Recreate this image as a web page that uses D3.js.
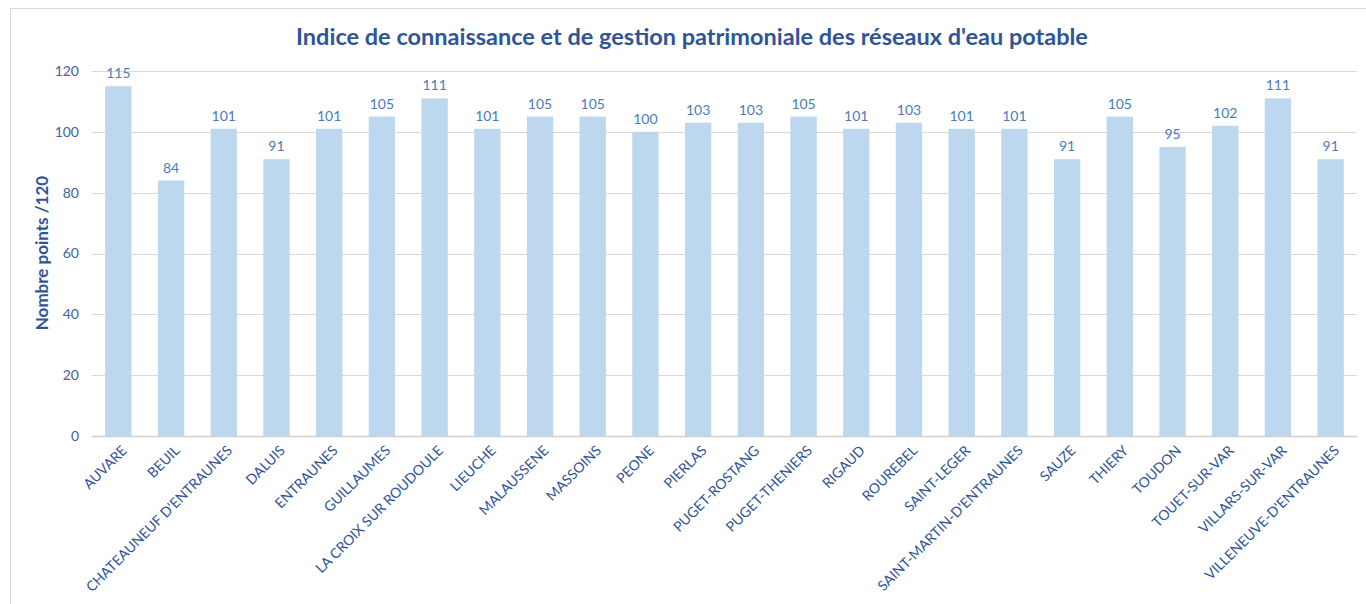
<!DOCTYPE html>
<html><head><meta charset="utf-8">
<script src="https://cdn.jsdelivr.net/npm/d3@7"></script>
<style>body{margin:0;background:#fff;}svg{display:block;font-family:Lato,"Open Sans",sans-serif;}</style>
</head><body>
<svg id="c" width="1366" height="604"></svg>
<script>
const categories = ["AUVARE","BEUIL","CHATEAUNEUF D'ENTRAUNES","DALUIS","ENTRAUNES","GUILLAUMES","LA CROIX SUR ROUDOULE","LIEUCHE","MALAUSSENE","MASSOINS","PEONE","PIERLAS","PUGET-ROSTANG","PUGET-THENIERS","RIGAUD","ROUREBEL","SAINT-LEGER","SAINT-MARTIN-D'ENTRAUNES","SAUZE","THIERY","TOUDON","TOUET-SUR-VAR","VILLARS-SUR-VAR","VILLENEUVE-D'ENTRAUNES"];
const values = [115,84,101,91,101,105,111,101,105,105,100,103,103,105,101,103,101,101,91,105,95,102,111,91];
const yTicks = [0,20,40,60,80,100,120];
const title = "Indice de connaissance et de gestion patrimoniale des réseaux d'eau potable";
const yTitle = "Nombre points /120";

(function(){
const svg = d3.select("#c");
svg.append("rect").attr("x",10.5).attr("y",8.5).attr("width",1366).attr("height",620)
  .attr("fill","none").attr("stroke","#D9D9D9").attr("stroke-width",1);

const pL=92, pR=1357, pT=71, pB=436;
const x = d3.scaleBand().domain(categories).range([pL,pR]).paddingInner(0.5).paddingOuter(0.25);
const y = d3.scaleLinear().domain([0,120]).range([pB,pT]);

svg.append("g").selectAll("line").data(yTicks).join("line")
  .attr("x1",pL).attr("x2",pR).attr("y1",d=>Math.round(y(d))+0.5).attr("y2",d=>Math.round(y(d))+0.5)
  .attr("stroke",d=>d===0?"#D0D0D0":"#D9D9D9").attr("stroke-width",d=>d===0?1.5:1);

svg.append("g").selectAll("text").data(yTicks).join("text")
  .attr("x",79).attr("y",d=>y(d)).attr("dy","0.35em").attr("text-anchor","end")
  .attr("font-size",14).attr("fill","#44609E").text(d=>d);

svg.append("g").selectAll("rect").data(values).join("rect")
  .attr("x",(d,i)=>x(categories[i])).attr("width",x.bandwidth())
  .attr("y",d=>y(d)).attr("height",d=>y(0)-y(d)).attr("fill","#BDD7EE");

svg.append("g").selectAll("text").data(values).join("text")
  .attr("x",(d,i)=>x(categories[i])+x.bandwidth()/2).attr("y",d=>y(d)-8)
  .attr("text-anchor","middle").attr("font-size",14).attr("fill","#4A7CBA").text(d=>d);

svg.append("g").selectAll("text").data(categories).join("text")
  .attr("transform",d=>`translate(${x(d)+x.bandwidth()/2+6},${pB+12}) rotate(-45)`)
  .attr("text-anchor","end").attr("dy","0.35em")
  .attr("font-size",14).attr("fill","#2F5597").text(d=>d);

svg.append("text").attr("x",692).attr("y",45).attr("text-anchor","middle")
  .attr("font-size",23.5).attr("font-weight","bold").attr("fill","#2F5597").text(title);

svg.append("text").attr("transform","translate(48,253) rotate(-90)").attr("text-anchor","middle")
  .attr("font-size",17).attr("font-weight","bold").attr("fill","#2F5597").text(yTitle);
})();
</script>
</body></html>
